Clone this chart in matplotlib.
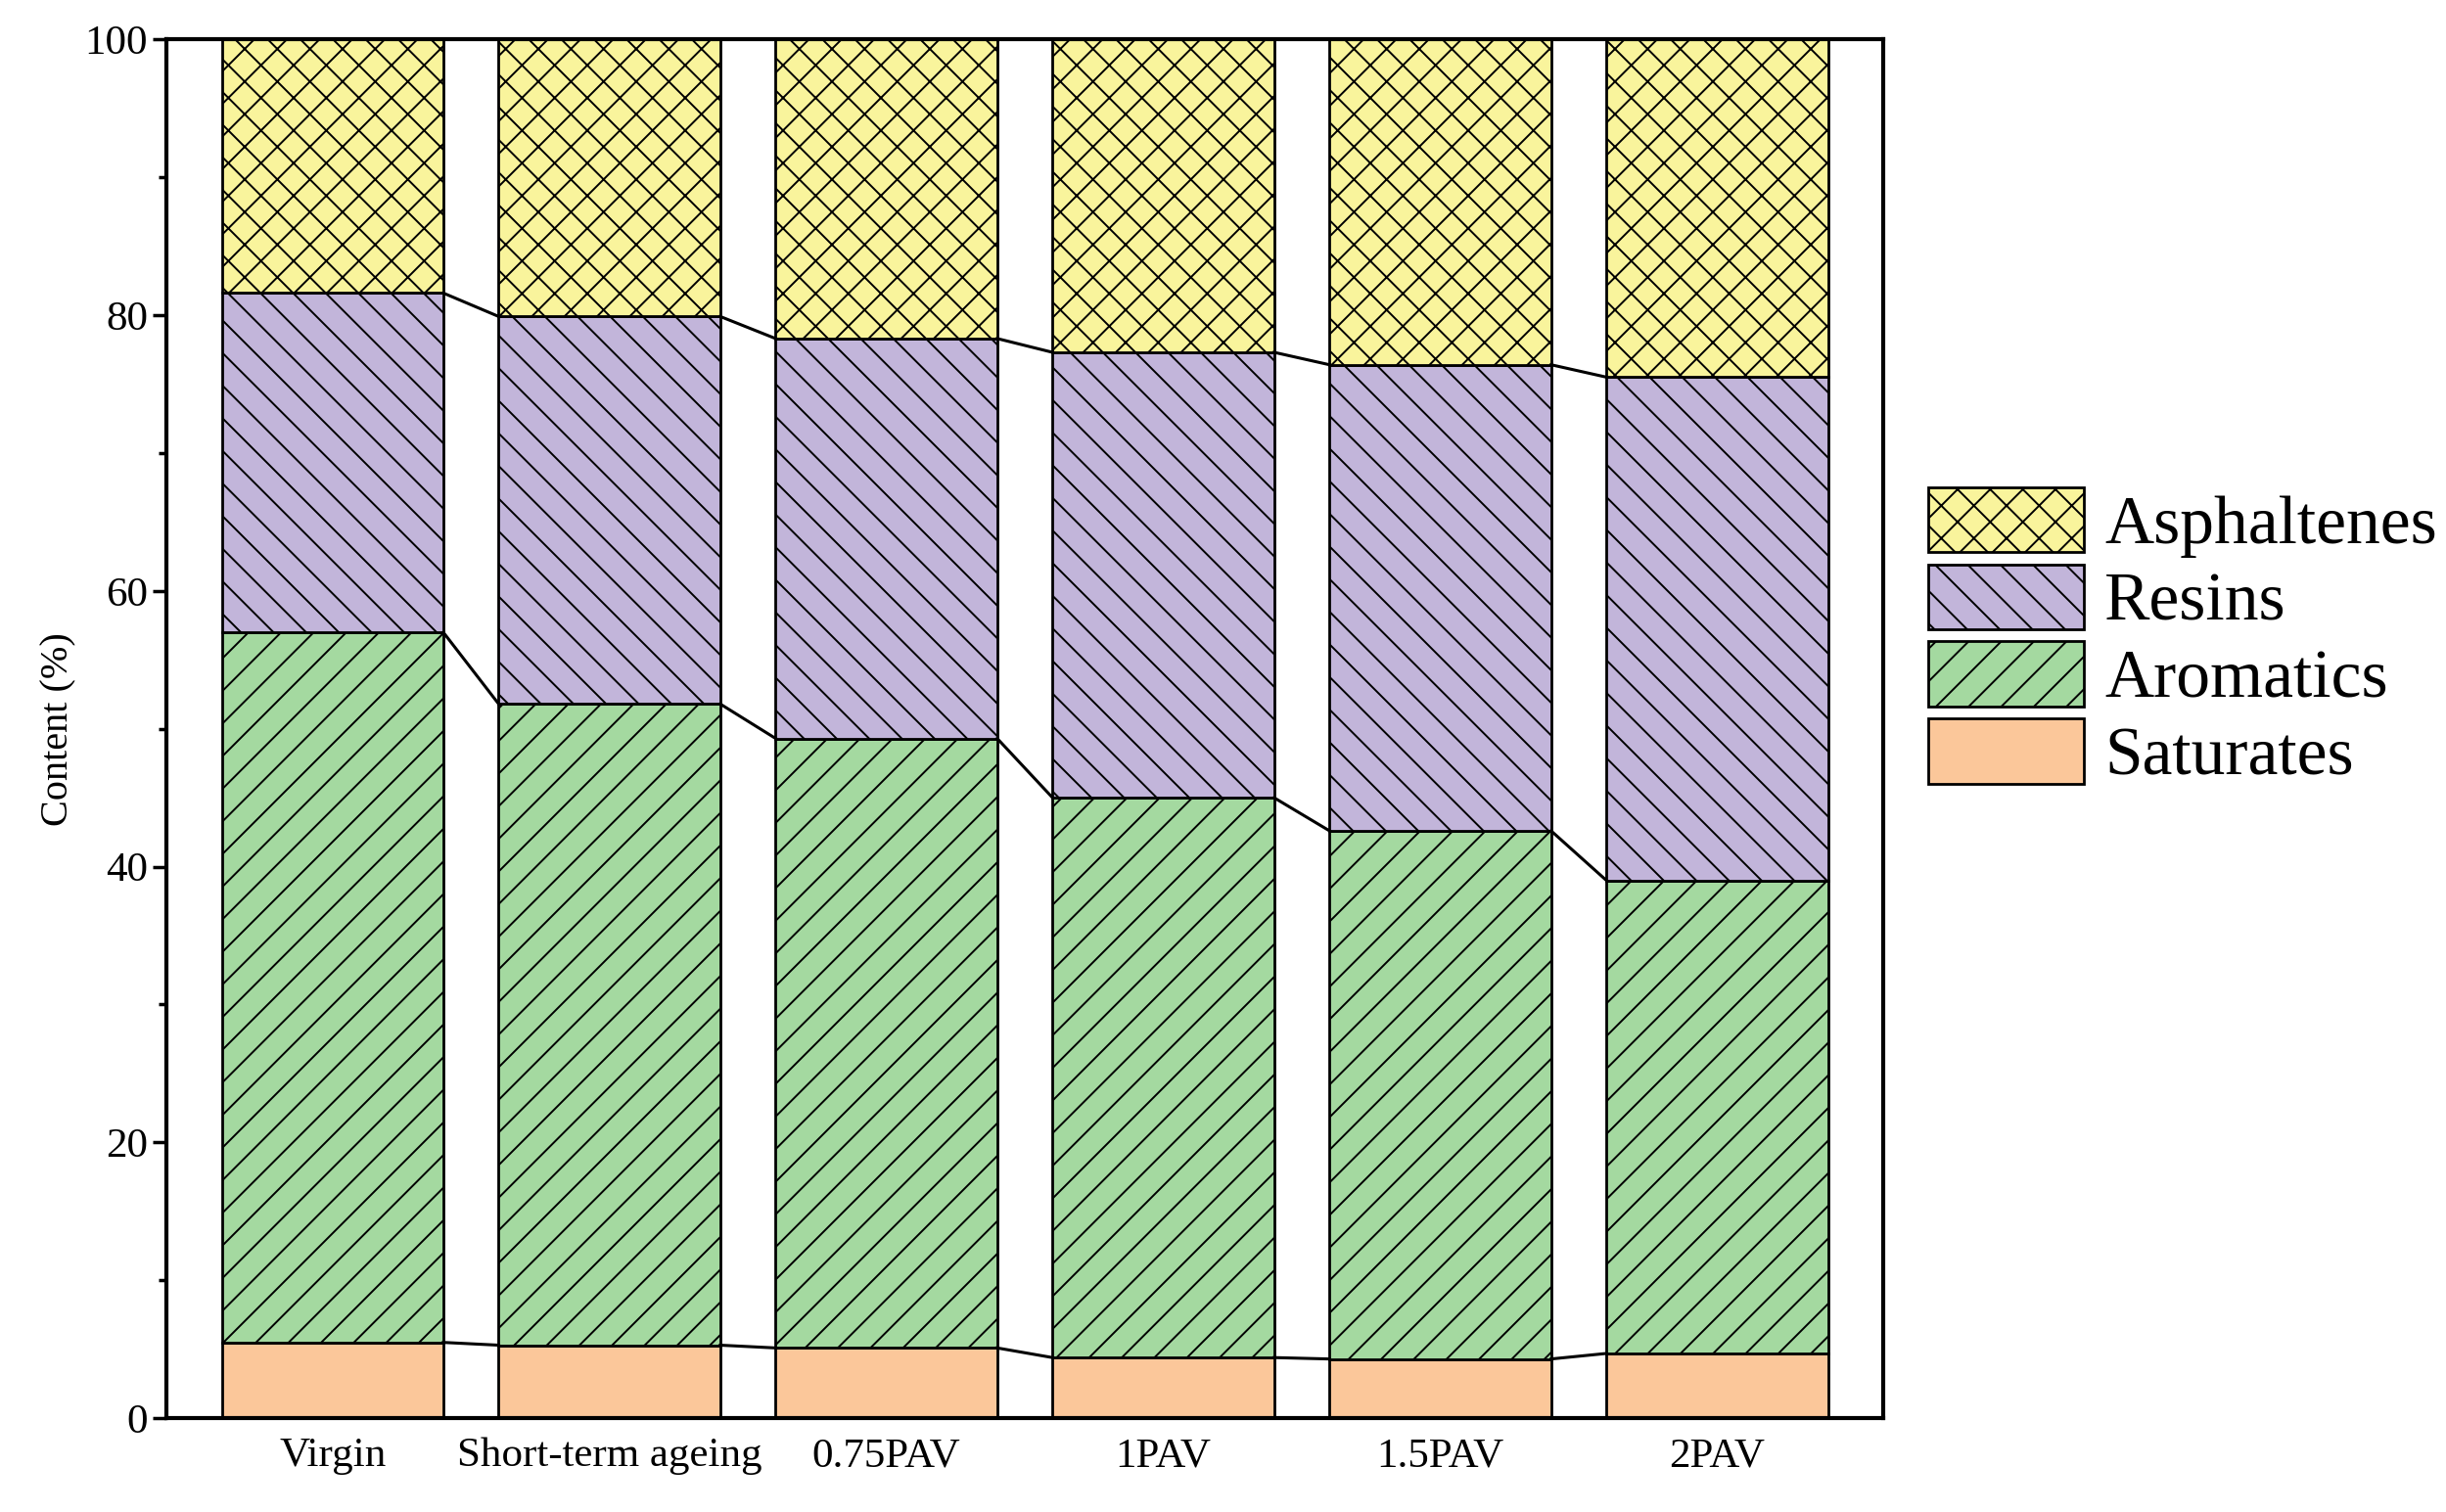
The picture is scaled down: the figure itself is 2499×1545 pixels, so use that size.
import numpy as np
import matplotlib.pyplot as plt
from matplotlib.ticker import MultipleLocator
from matplotlib.patches import Patch

plt.rcParams['font.family'] = ['Liberation Serif', 'DejaVu Serif']
plt.rcParams['hatch.linewidth'] = 1.4

categories = ['Virgin', 'Short-term ageing', '0.75PAV', '1PAV', '1.5PAV', '2PAV']
saturates = [5.5, 5.3, 5.1, 4.4, 4.3, 4.7]
aromatics = [51.5, 46.5, 44.2, 40.6, 38.3, 34.3]
resins = [24.6, 28.1, 29.0, 32.3, 33.8, 36.5]
asphaltenes = [18.4, 20.1, 21.7, 22.7, 23.6, 24.5]

names = ['Saturates', 'Aromatics', 'Resins', 'Asphaltenes']
series = [saturates, aromatics, resins, asphaltenes]
colors = ['#FBC79A', '#A4D9A0', '#C2B5DA', '#F9F49C']
hatches = ['', '/', '\\', 'x']

fig = plt.figure(figsize=(24.99, 15.45), dpi=100)
ax = fig.add_axes([0.068, 0.062, 0.702, 0.912])
x = np.arange(len(categories))
w = 0.8
bottom = np.zeros(len(categories))
for vals, c, h in zip(series, colors, hatches):
    ax.bar(x, vals, w, bottom=bottom, color=c, hatch=h, edgecolor='black', linewidth=2, zorder=2)
    bottom = bottom + np.array(vals)
    # connecting lines between stack tops
    if bottom.max() < 99.9:
        for i in range(len(x) - 1):
            ax.plot([x[i] + w / 2, x[i + 1] - w / 2], [bottom[i], bottom[i + 1]], color='black', lw=2.2, zorder=3)

ax.set_xlim(-0.6, len(x) - 0.4)
ax.set_ylim(0, 100)
ax.set_xticks(x)
ax.set_xticklabels(categories, fontsize=31)
ax.tick_params(axis='x', length=0, pad=14)
ax.yaxis.set_major_locator(MultipleLocator(20))
ax.yaxis.set_minor_locator(MultipleLocator(10))
ax.tick_params(axis='y', which='major', length=10, width=2.5, labelsize=31)
ax.tick_params(axis='y', which='minor', length=6, width=2.5)
ax.set_ylabel('Content (%)', fontsize=29, labelpad=6)
for s in ax.spines.values():
    s.set_linewidth(3)

handles = [Patch(facecolor=c, hatch=h, edgecolor='black', linewidth=2, label=n)
           for n, c, h in zip(names[::-1], colors[::-1], hatches[::-1])]
ax.legend(handles=handles, loc='upper left', bbox_to_anchor=(1.01, 0.695), fontsize=50,
          frameon=False, handlelength=2.3, handleheight=1.1, handletextpad=0.3, labelspacing=0.1,
          borderaxespad=0)

fig.savefig('out.png', dpi=100)
